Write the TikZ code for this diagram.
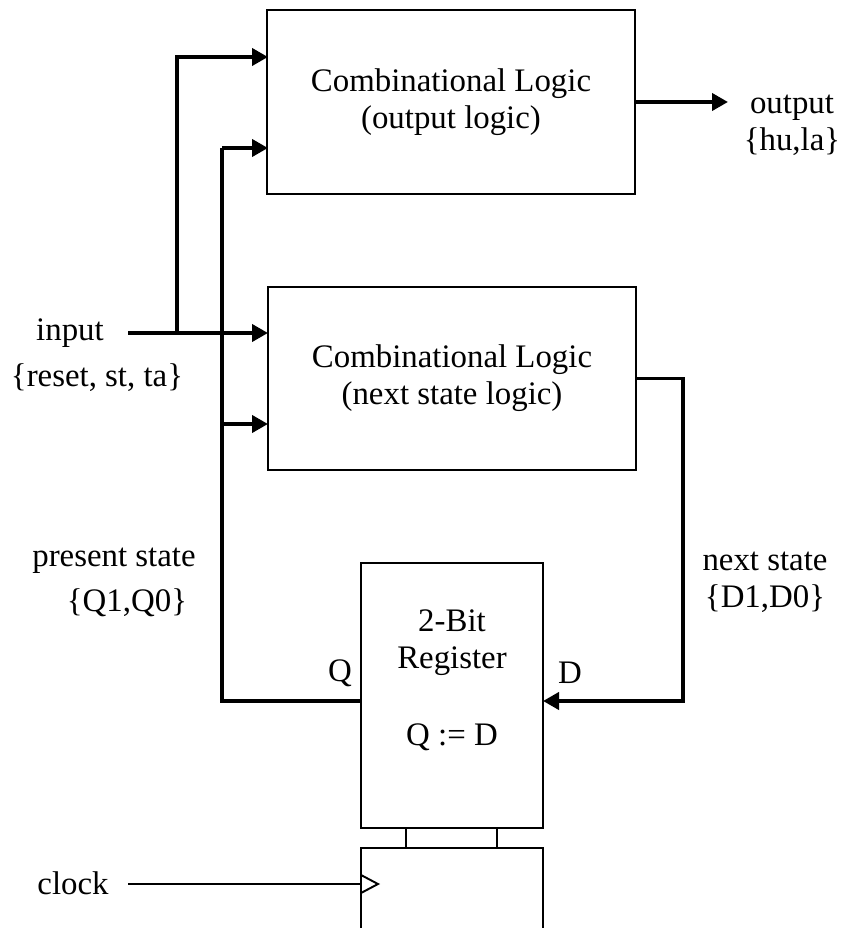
\documentclass[tikz,border=0pt]{standalone}
\usepackage{fontspec}
\setmainfont{Liberation Serif}
\usetikzlibrary{arrows.meta}

\tikzstyle{block}=[draw, line width=1.1pt, minimum width=7.36cm, align=center]
\tikzstyle{edge}=[line width=1.1pt]
\tikzstyle{wire}=[line width=2.2pt]
\tikzstyle{arrow}=[wire, -{Triangle[length=0.32cm, width=0.34cm]}]

\begin{document}
\begin{tikzpicture}[x=0.02cm, y=-0.02cm, font=\fontsize{18.7}{21}\selectfont]
      \useasboundingbox (0,0) rectangle (841,928);

      \node[block, minimum height=3.68cm] (outlogic) at (451,102) {Combinational Logic\\(output logic)};
      \node[block, minimum height=3.66cm] (nslogic) at (452,378.5) {Combinational Logic\\(next state logic)};
      \node[block, minimum width=3.64cm, minimum height=5.3cm] (reg) at (452,695.5) {};
      \node[align=center] (regtxt) at (452,680) {2-Bit\\Register\\[23pt]Q := D};

      % flip-flop part of the register, runs off the bottom
      \coordinate (ffl) at (361,848);
      \coordinate (ffr) at (543,848);
      \draw[edge] (361,940) -- (ffl) -- (ffr) -- (543,940);
      \draw[edge] (reg.south -| 406,0) -- (ffl -| 406,0);
      \draw[edge] (reg.south -| 497,0) -- (ffr -| 497,0);
      \draw[edge] (361,875) -- (378,884) -- (361,893);

      % ports
      \coordinate (in) at (128,333);
      \coordinate (split) at (177,333);
      \coordinate (o1) at (268,57);
      \coordinate (o2) at (268,148);
      \coordinate (n1) at (268,333);
      \coordinate (n2) at (268,424);
      \coordinate (fb) at (222,148);
      \coordinate (qout) at (361,701);
      \coordinate (din) at (543,701);
      \coordinate (oend) at (728,102);
      \coordinate (clk) at (128,884);

      \node (inlbl) at (70,333) {input};
      \node (inset) at (97,378) {\{reset, st, ta\}};
      \node[align=center] (outlbl) at (792,125) {output\\\{hu,la\}};
      \node (pslbl) at (114,561) {present state};
      \node (psset) at (127,603) {\{Q1,Q0\}};
      \node[align=center] (nslbl) at (765,582) {next state\\\{D1,D0\}};
      \node (qlbl) at (340,673) {Q};
      \node (dlbl) at (570,673) {D};
      \node (clklbl) at (73,883) {clock};

      \draw[arrow] (in) -- (n1);
      \draw[arrow] (split) |- (o1);
      \draw[wire] (qout) -| (fb);
      \draw[arrow] (fb) -- (o2);
      \draw[arrow] (fb |- n2) -- (n2);
      \draw[arrow] (nslogic.east) -- ++(46,0) |- (din);
      \draw[arrow] (outlogic.east) -- (oend);
      \draw[edge] (clk) -- (clk -| ffl);
    \end{tikzpicture}
\end{document}
